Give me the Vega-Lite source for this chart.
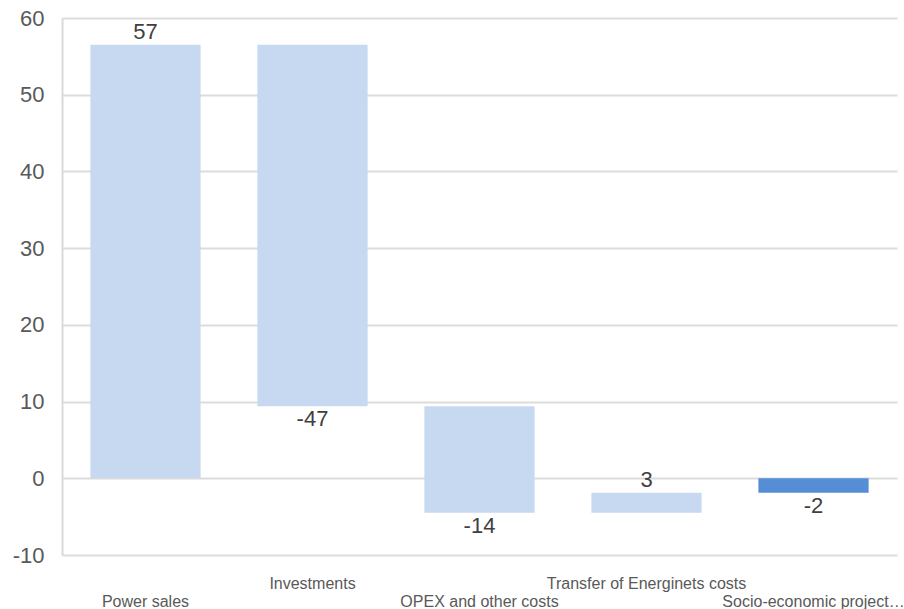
{
  "$schema": "https://vega.github.io/schema/vega-lite/v6.json",
  "width": 835,
  "height": 537,
  "autosize": {"type": "none"},
  "padding": {"left": 62, "top": 18, "right": 7, "bottom": 54},
  "background": "white",
  "config": {
    "view": {"stroke": null},
    "font": "Liberation Sans"
  },
  "data": {
    "values": [
      {"item": "Power sales", "start": 0, "end": 56.5, "amount": 56.5, "kind": "step"},
      {"item": "Investments", "start": 56.5, "end": 9.4, "amount": -47.1, "kind": "step"},
      {"item": "OPEX and other costs", "start": 9.4, "end": -4.5, "amount": -13.9, "kind": "step"},
      {"item": "Transfer of Energinets costs", "start": -4.5, "end": -1.9, "amount": 2.6, "kind": "step"},
      {"item": "Socio-economic project result", "start": 0, "end": -1.9, "amount": -1.9, "kind": "total"}
    ]
  },
  "transform": [
    {"calculate": "'' + round(datum.amount)", "as": "amountLabel"}
  ],
  "encoding": {
    "x": {
      "field": "item",
      "type": "nominal",
      "sort": null,
      "title": null,
      "scale": {"paddingInner": 0.34, "paddingOuter": 0.17},
      "axis": {
        "domain": false,
        "ticks": false,
        "labelAngle": 0,
        "labelFontSize": 16,
        "labelColor": "#595959",
        "labelLimit": 400,
        "labelOverlap": false,
        "labelPadding": {
          "condition": {"test": "datum.value == 'Investments' || datum.value == 'Transfer of Energinets costs'", "value": 20},
          "value": 38
        },
        "labelExpr": "datum.label == 'Socio-economic project result' ? truncate(datum.label, 23) : datum.label"
      }
    }
  },
  "layer": [
    {
      "mark": {"type": "bar"},
      "encoding": {
        "y": {
          "field": "start",
          "type": "quantitative",
          "title": null,
          "scale": {"domain": [-10, 60], "nice": false, "zero": false},
          "axis": {
            "values": [-10, 0, 10, 20, 30, 40, 50, 60],
            "labelExpr": "'' + datum.value",
            "domain": true,
            "domainColor": "#d9d9d9",
            "domainWidth": 2,
            "ticks": false,
            "grid": true,
            "gridColor": "#dcdcdc",
            "gridWidth": 2,
            "labelFontSize": 22,
            "labelColor": "#595959",
            "labelPadding": 18
          }
        },
        "y2": {"field": "end"},
        "color": {
          "field": "kind",
          "type": "nominal",
          "scale": {"domain": ["step", "total"], "range": ["#c6d9f1", "#558ed5"]},
          "legend": null
        }
      }
    },
    {
      "transform": [{"filter": "datum.amount >= 0"}],
      "mark": {"type": "text", "baseline": "alphabetic", "dy": -6, "fontSize": 22, "color": "#404040"},
      "encoding": {
        "y": {"field": "end", "type": "quantitative"},
        "text": {"field": "amountLabel", "type": "nominal"}
      }
    },
    {
      "transform": [{"filter": "datum.amount < 0"}],
      "mark": {"type": "text", "baseline": "top", "dy": 3, "fontSize": 22, "color": "#404040"},
      "encoding": {
        "y": {"field": "end", "type": "quantitative"},
        "text": {"field": "amountLabel", "type": "nominal"}
      }
    }
  ]
}
